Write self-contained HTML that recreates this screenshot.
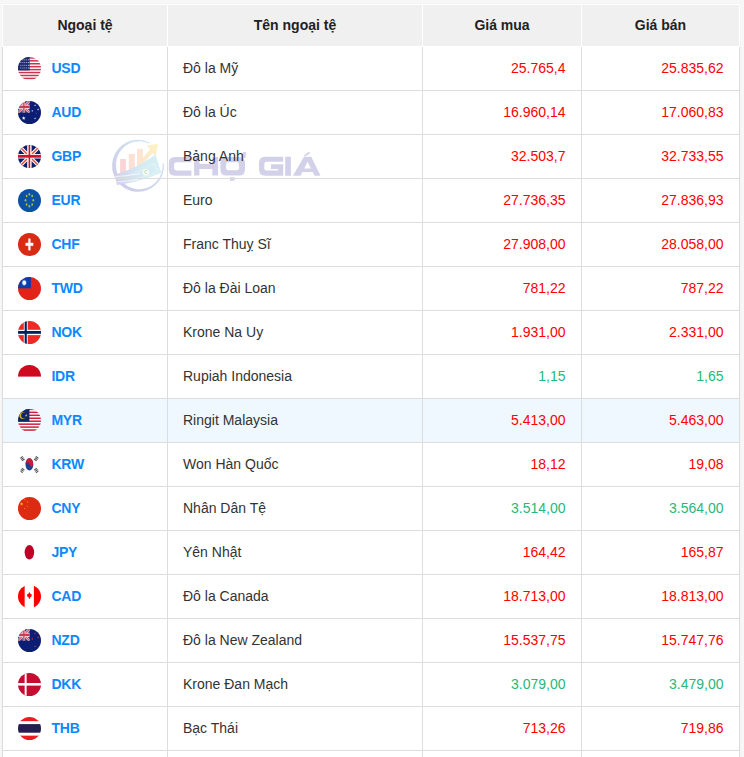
<!DOCTYPE html><html><head><meta charset="utf-8"><style>html,body{margin:0;padding:0}
body{width:744px;height:757px;overflow:hidden;background:#f7f7f7;font-family:"Liberation Sans",sans-serif;position:relative}
.wrap{position:absolute;left:2px;top:4px;background:#fff;box-shadow:0 0 2px rgba(0,0,0,0.04)}
table{border-collapse:collapse;table-layout:fixed;width:738px}
th{background:#f0f0f0;border:1px solid #fff;height:40px;padding:0 0 1px 0;font-weight:bold;font-size:14px;color:#222;text-align:center}
td{border:1px solid #ddd;height:42px;padding:0 0 1px 0;font-size:14px;color:#333}
tr.hl td{background:#f0f8ff}
.c1{padding-left:15px !important;white-space:nowrap}
.c1>svg{display:inline-block;vertical-align:middle;width:23px;height:23px}
.code{color:#0d88ff;font-weight:bold;margin-left:10.4px;letter-spacing:-0.2px;vertical-align:middle}
.c2{padding-left:15px !important}
.num{text-align:right;padding-right:15.5px !important}
.red{color:#ff0000}
.grn{color:#28b77a}
.wm{position:absolute;left:-2px;top:-4px;z-index:0}
table{position:relative;z-index:1}
</style></head><body>
<div class="wrap"><svg class="wm" width="744" height="757" viewBox="0 0 744 757">
<defs>
<linearGradient id="gRing" x1="0" y1="1" x2="1" y2="0"><stop offset="0" stop-color="#cdc9e7"/><stop offset="0.5" stop-color="#cfd9ee"/><stop offset="1" stop-color="#ccedf3"/></linearGradient><linearGradient id="gArrow" x1="0" y1="1" x2="1" y2="0"><stop offset="0" stop-color="#fce2d0"/><stop offset="1" stop-color="#fdf2c2"/></linearGradient>
<linearGradient id="gBar" x1="0" y1="0" x2="1" y2="0"><stop offset="0" stop-color="#f9d3d8"/><stop offset="1" stop-color="#fbe5cc"/></linearGradient>
<linearGradient id="gBill" x1="0" y1="0" x2="1" y2="0"><stop offset="0" stop-color="#d1cfea"/><stop offset="0.5" stop-color="#d5e9f3"/><stop offset="1" stop-color="#d8f0f5"/></linearGradient>
</defs>
<!-- ring -->
<path fill-rule="evenodd" d="M149.4,142.4 A26,26 0 1 0 163.9,163.5 L162.6,163.2 A23.4,24 0 1 1 149.55,143.7 Z" fill="url(#gRing)"/>
<!-- bars -->
<rect x="120.1" y="159" width="5.8" height="14" fill="#f9d5d8"/>
<rect x="128.8" y="153.9" width="6" height="16" fill="#fbe0d6"/>
<rect x="137" y="148.9" width="5.9" height="18" fill="#fce5d2"/>
<!-- arrow -->
<path d="M142.9,157.8 L149.9,149.3 L146.9,145.3 L158,144.1 L155.8,155.8 L152.5,153.3 L141,165.5 L136,167 Z" fill="url(#gArrow)"/>
<!-- bill -->
<path d="M114.5,174.5 Q134,170 155.5,154.5 L161.3,172.7 Q140,182 117,185 Z" fill="url(#gBill)"/>
<path d="M126,176 Q140,171.5 153.7,163.3 L158.6,171.8 Q142,178.5 128,181" fill="none" stroke="#fff" stroke-width="0.7" stroke-dasharray="1.1 1.3" opacity="0.9"/>
<circle cx="145.9" cy="172.3" r="3.4" fill="#f4faf6"/>
<path d="M147.3,170.6 Q145,169.6 144.5,171.6 Q144.9,173.4 147,174" stroke="#c5e2b8" stroke-width="1" fill="none"/>
<!-- swoosh white lines -->
<path d="M115.3,176.6 Q127,176 140,173.6" stroke="#fff" stroke-width="0.8" fill="none" opacity="0.85"/>
<path d="M117.5,181.8 Q130,181.5 142,178.2" stroke="#fff" stroke-width="0.8" fill="none" opacity="0.85"/>
<path d="M128,186 Q145,184.5 160,176" stroke="#fff" stroke-width="1.2" fill="none"/>
<!-- text CHỢ GIÁ -->
<g fill="#d3d1e9">
<path d="M191.4,157 H175 Q168.8,157 168.8,163.2 V169.6 Q168.8,175.8 175,175.8 H191.4 V170.5 H176.5 Q174.1,170.5 174.1,168.1 V164.7 Q174.1,162.3 176.5,162.3 H191.4 Z"/>
<path d="M194.1,157 H199.4 V164.1 H212.3 V157 H218 V175.6 H212.3 V168.9 H199.4 V175.6 H194.1 Z"/>
<path fill-rule="evenodd" d="M226.6,157 H238.8 Q245,157 245,163.2 V169.4 Q245,175.6 238.8,175.6 H226.6 Q220.4,175.6 220.4,169.4 V163.2 Q220.4,157 226.6,157 Z M228.1,162.3 Q226.1,162.3 226.1,164.3 V168.3 Q226.1,170.3 228.1,170.3 H237 Q239,170.3 239,168.3 V164.3 Q239,162.3 237,162.3 Z"/>
<path d="M241.5,157.5 L243.5,152 H246 L245.5,158 Z"/>
<rect x="230" y="177.2" width="4.7" height="3.5"/>
<path d="M283.2,156.7 H265.2 Q259,156.7 259,162.9 V169.6 Q259,175.8 265.2,175.8 H283.2 V164.3 H271 V168.9 H278 V170.5 H266.5 Q264.3,170.5 264.3,168.3 V164.2 Q264.3,161.8 266.5,161.8 H283.2 Z"/>
<rect x="285.2" y="156.7" width="5.7" height="19.1"/>
<path fill-rule="evenodd" d="M304,156.7 H311.3 L320.5,175.8 H314.6 L312.8,172 H302.4 L300.6,175.8 H292.9 Z M307.6,161.8 L304.3,168.4 H311 Z"/>
<path d="M303.8,155.4 L309,151.8 L310.2,153.2 L304.9,156.4 Z"/>
</g>
</svg>
<table><colgroup><col style="width:165px"><col style="width:255px"><col style="width:159px"><col style="width:158px"></colgroup>
<tr class="hd"><th>Ngoại tệ</th><th>Tên ngoại tệ</th><th>Giá mua</th><th>Giá bán</th></tr>
<tr><td class="c1"><svg viewBox="0 0 23 23"><defs><clipPath id="kUSD"><circle cx="11.5" cy="11.5" r="11.5"/></clipPath></defs><g clip-path="url(#kUSD)"><rect width="23" height="23" fill="#fff"/><rect x="0" y="0.15" width="23" height="1.50" fill="#c9344f"/><rect x="0" y="3.08" width="23" height="1.50" fill="#c9344f"/><rect x="0" y="6.01" width="23" height="1.50" fill="#c9344f"/><rect x="0" y="8.94" width="23" height="1.50" fill="#c9344f"/><rect x="0" y="11.87" width="23" height="1.50" fill="#c9344f"/><rect x="0" y="14.80" width="23" height="1.50" fill="#c9344f"/><rect x="0" y="17.73" width="23" height="1.50" fill="#c9344f"/><rect x="0" y="20.66" width="23" height="1.50" fill="#c9344f"/><rect x="0" y="23.59" width="23" height="1.50" fill="#c9344f"/><rect x="0" y="0" width="11.6" height="13.4" fill="#1b2a6b"/><rect x="2.3499999999999996" y="2.4499999999999997" width="0.9" height="0.9" fill="#d8dcf0"/><rect x="4.45" y="2.4499999999999997" width="0.9" height="0.9" fill="#d8dcf0"/><rect x="6.35" y="2.4499999999999997" width="0.9" height="0.9" fill="#d8dcf0"/><rect x="8.25" y="2.4499999999999997" width="0.9" height="0.9" fill="#d8dcf0"/><rect x="10.05" y="2.4499999999999997" width="0.9" height="0.9" fill="#d8dcf0"/><rect x="2.3499999999999996" y="5.1499999999999995" width="0.9" height="0.9" fill="#d8dcf0"/><rect x="4.45" y="5.1499999999999995" width="0.9" height="0.9" fill="#d8dcf0"/><rect x="6.35" y="5.1499999999999995" width="0.9" height="0.9" fill="#d8dcf0"/><rect x="8.25" y="5.1499999999999995" width="0.9" height="0.9" fill="#d8dcf0"/><rect x="10.05" y="5.1499999999999995" width="0.9" height="0.9" fill="#d8dcf0"/><rect x="2.3499999999999996" y="7.8500000000000005" width="0.9" height="0.9" fill="#d8dcf0"/><rect x="4.45" y="7.8500000000000005" width="0.9" height="0.9" fill="#d8dcf0"/><rect x="6.35" y="7.8500000000000005" width="0.9" height="0.9" fill="#d8dcf0"/><rect x="8.25" y="7.8500000000000005" width="0.9" height="0.9" fill="#d8dcf0"/><rect x="10.05" y="7.8500000000000005" width="0.9" height="0.9" fill="#d8dcf0"/><rect x="2.3499999999999996" y="10.55" width="0.9" height="0.9" fill="#d8dcf0"/><rect x="4.45" y="10.55" width="0.9" height="0.9" fill="#d8dcf0"/><rect x="6.35" y="10.55" width="0.9" height="0.9" fill="#d8dcf0"/><rect x="8.25" y="10.55" width="0.9" height="0.9" fill="#d8dcf0"/><rect x="10.05" y="10.55" width="0.9" height="0.9" fill="#d8dcf0"/></g></svg><span class="code">USD</span></td><td class="c2">Đô la Mỹ</td><td class="num red">25.765,4</td><td class="num red">25.835,62</td></tr>
<tr><td class="c1"><svg viewBox="0 0 23 23"><defs><clipPath id="kAUD"><circle cx="11.5" cy="11.5" r="11.5"/></clipPath></defs><g clip-path="url(#kAUD)"><rect width="23" height="23" fill="#0c1e74"/><g opacity="0.9"><svg x="0" y="0" width="11.7" height="11.7" viewBox="0 0 60 30" preserveAspectRatio="none"><rect width="60" height="30" fill="#012169"/><path d="M0,0 L60,30 M60,0 L0,30" stroke="#fff" stroke-width="8"/><path d="M0,0 L60,30 M60,0 L0,30" stroke="#e04860" stroke-width="4"/><path d="M30,0 V30 M0,15 H60" stroke="#fff" stroke-width="11"/><path d="M30,0 V30 M0,15 H60" stroke="#C8102E" stroke-width="6"/></svg></g><rect x="0" y="0" width="11.7" height="11.7" fill="#f4a0aa" opacity="0.3"/><polygon points="5.70,15.20 6.17,16.55 7.60,16.58 6.46,17.45 6.88,18.82 5.70,18.00 4.52,18.82 4.94,17.45 3.80,16.58 5.23,16.55" fill="#fff"/><polygon points="17.10,3.00 17.41,3.88 18.34,3.90 17.59,4.46 17.86,5.35 17.10,4.82 16.34,5.35 16.61,4.46 15.86,3.90 16.79,3.88" fill="#b8c0e8"/><polygon points="20.10,7.10 20.41,7.98 21.34,8.00 20.59,8.56 20.86,9.45 20.10,8.92 19.34,9.45 19.61,8.56 18.86,8.00 19.79,7.98" fill="#b8c0e8"/><polygon points="14.30,8.70 14.58,9.51 15.44,9.53 14.76,10.05 15.01,10.87 14.30,10.38 13.59,10.87 13.84,10.05 13.16,9.53 14.02,9.51" fill="#b8c0e8"/><polygon points="17.10,16.00 17.41,16.88 18.34,16.90 17.59,17.46 17.86,18.35 17.10,17.82 16.34,18.35 16.61,17.46 15.86,16.90 16.79,16.88" fill="#b8c0e8"/><polygon points="18.40,11.50 18.54,11.91 18.97,11.91 18.63,12.17 18.75,12.59 18.40,12.34 18.05,12.59 18.17,12.17 17.83,11.91 18.26,11.91" fill="#b8c0e8"/></g></svg><span class="code">AUD</span></td><td class="c2">Đô la Úc</td><td class="num red">16.960,14</td><td class="num red">17.060,83</td></tr>
<tr><td class="c1"><svg viewBox="0 0 23 23"><defs><clipPath id="kGBP"><circle cx="11.5" cy="11.5" r="11.5"/></clipPath></defs><g clip-path="url(#kGBP)"><rect width="23" height="23" fill="#0a1f6e"/><path d="M0,0 L23,23 M23,0 L0,23" stroke="#fff" stroke-width="3.6"/><path d="M0,0 L23,23 M23,0 L0,23" stroke="#e0503f" stroke-width="1.5"/><path d="M11.4,0 V23 M0,11.3 H23" stroke="#fff" stroke-width="4.4"/><rect x="10.6" y="0" width="1.6" height="23" fill="#d0112b"/><rect x="0" y="9.9" width="23" height="2.8" fill="#d0112b"/></g></svg><span class="code">GBP</span></td><td class="c2">Bảng Anh</td><td class="num red">32.503,7</td><td class="num red">32.733,55</td></tr>
<tr><td class="c1"><svg viewBox="0 0 23 23"><defs><clipPath id="kEUR"><circle cx="11.5" cy="11.5" r="11.5"/></clipPath></defs><g clip-path="url(#kEUR)"><rect width="23" height="23" fill="#0b52a6"/><ellipse cx="11.40" cy="5.30" rx="0.85" ry="1.3" fill="#a9c23c"/><ellipse cx="14.16" cy="7.06" rx="0.85" ry="1.3" fill="#a9c23c"/><ellipse cx="15.30" cy="11.30" rx="0.85" ry="1.3" fill="#a9c23c"/><ellipse cx="14.16" cy="15.54" rx="0.85" ry="1.3" fill="#a9c23c"/><ellipse cx="11.40" cy="17.30" rx="0.85" ry="1.3" fill="#a9c23c"/><ellipse cx="8.64" cy="15.54" rx="0.85" ry="1.3" fill="#a9c23c"/><ellipse cx="7.50" cy="11.30" rx="0.85" ry="1.3" fill="#a9c23c"/><ellipse cx="8.64" cy="7.06" rx="0.85" ry="1.3" fill="#a9c23c"/></g></svg><span class="code">EUR</span></td><td class="c2">Euro</td><td class="num red">27.736,35</td><td class="num red">27.836,93</td></tr>
<tr><td class="c1"><svg viewBox="0 0 23 23"><defs><clipPath id="kCHF"><circle cx="11.5" cy="11.5" r="11.5"/></clipPath></defs><g clip-path="url(#kCHF)"><rect width="23" height="23" fill="#d92b14"/><rect x="10.3" y="5.5" width="2.2" height="11.9" fill="#fff"/><rect x="7.5" y="9.8" width="7.8" height="3" fill="#fff"/></g></svg><span class="code">CHF</span></td><td class="c2">Franc Thuỵ Sĩ</td><td class="num red">27.908,00</td><td class="num red">28.058,00</td></tr>
<tr><td class="c1"><svg viewBox="0 0 23 23"><defs><clipPath id="kTWD"><circle cx="11.5" cy="11.5" r="11.5"/></clipPath></defs><g clip-path="url(#kTWD)"><rect width="23" height="23" fill="#e2231a"/><rect x="0" y="0" width="12.9" height="11.3" fill="#0b3ea8"/><defs><radialGradient id="tsun"><stop offset="0" stop-color="#fff"/><stop offset="0.45" stop-color="#eef2f8"/><stop offset="1" stop-color="#0b3ea8" stop-opacity="0"/></radialGradient></defs><ellipse cx="6.2" cy="5.75" rx="3.2" ry="3.9" fill="url(#tsun)"/></g></svg><span class="code">TWD</span></td><td class="c2">Đô la Đài Loan</td><td class="num red">781,22</td><td class="num red">787,22</td></tr>
<tr><td class="c1"><svg viewBox="0 0 23 23"><defs><clipPath id="kNOK"><circle cx="11.5" cy="11.5" r="11.5"/></clipPath></defs><g clip-path="url(#kNOK)"><rect width="23" height="23" fill="#ef2a24"/><rect x="5.8" y="0" width="3.9" height="23" fill="#fff"/><rect x="0" y="8.8" width="23" height="5.3" fill="#fff"/><rect x="6.65" y="0" width="2.15" height="23" fill="#00205b"/><rect x="0" y="10" width="23" height="2.8" fill="#00205b"/></g></svg><span class="code">NOK</span></td><td class="c2">Krone Na Uy</td><td class="num red">1.931,00</td><td class="num red">2.331,00</td></tr>
<tr><td class="c1"><svg viewBox="0 0 23 23"><defs><clipPath id="kIDR"><circle cx="11.5" cy="11.5" r="11.5"/></clipPath></defs><g clip-path="url(#kIDR)"><rect width="23" height="23" fill="#fff"/><rect width="23" height="11.6" fill="#ce0a1e"/></g></svg><span class="code">IDR</span></td><td class="c2">Rupiah Indonesia</td><td class="num grn">1,15</td><td class="num grn">1,65</td></tr>
<tr class="hl"><td class="c1"><svg viewBox="0 0 23 23"><defs><clipPath id="kMYR"><circle cx="11.5" cy="11.5" r="11.5"/></clipPath></defs><g clip-path="url(#kMYR)"><rect width="23" height="23" fill="#fff"/><rect x="0" y="-0.35" width="23" height="1.50" fill="#cc1f3d"/><rect x="0" y="2.60" width="23" height="1.50" fill="#cc1f3d"/><rect x="0" y="5.55" width="23" height="1.50" fill="#cc1f3d"/><rect x="0" y="8.50" width="23" height="1.50" fill="#cc1f3d"/><rect x="0" y="11.45" width="23" height="1.50" fill="#cc1f3d"/><rect x="0" y="14.40" width="23" height="1.50" fill="#cc1f3d"/><rect x="0" y="17.35" width="23" height="1.50" fill="#cc1f3d"/><rect x="0" y="20.30" width="23" height="1.50" fill="#cc1f3d"/><rect x="0" y="23.25" width="23" height="1.50" fill="#cc1f3d"/><rect x="0" y="0" width="11.4" height="12.6" fill="#0d2868"/><circle cx="4.8" cy="6.6" r="3.4" fill="#e3b21a"/><circle cx="6.1" cy="6.4" r="3.0" fill="#0d2868"/><polygon points="8.20,4.80 8.58,5.88 9.72,5.91 8.81,6.60 9.14,7.69 8.20,7.04 7.26,7.69 7.59,6.60 6.68,5.91 7.82,5.88" fill="#e8b416"/></g></svg><span class="code">MYR</span></td><td class="c2">Ringit Malaysia</td><td class="num red">5.413,00</td><td class="num red">5.463,00</td></tr>
<tr><td class="c1"><svg viewBox="0 0 23 23"><defs><clipPath id="kKRW"><circle cx="11.5" cy="11.5" r="11.5"/></clipPath></defs><g clip-path="url(#kKRW)"><rect width="23" height="23" fill="#fff"/><g transform="translate(11.4 11.3) scale(3.9 6.15) rotate(-20)"><circle r="1" fill="#1f3f8f"/><path d="M-1,0 A1,1 0 0 1 1,0 A0.5,0.5 0 0 1 0,0 A0.5,0.5 0 0 0 -1,0 Z" fill="#cd1c33"/></g><g transform="translate(4.3 5.5) rotate(-35)"><rect x="-1.6" y="-2.0500000000000003" width="3.2" height="1.1" fill="#333" opacity="0.85"/><rect x="-1.6" y="-0.45" width="3.2" height="1.1" fill="#333" opacity="0.85"/><rect x="-1.6" y="1.1500000000000001" width="3.2" height="1.1" fill="#333" opacity="0.85"/></g><g transform="translate(18.3 5.5) rotate(35)"><rect x="-1.6" y="-2.0500000000000003" width="3.2" height="1.1" fill="#333" opacity="0.85"/><rect x="-1.6" y="-0.45" width="3.2" height="1.1" fill="#333" opacity="0.85"/><rect x="-1.6" y="1.1500000000000001" width="3.2" height="1.1" fill="#333" opacity="0.85"/></g><g transform="translate(4.3 17.4) rotate(35)"><rect x="-1.6" y="-2.0500000000000003" width="3.2" height="1.1" fill="#333" opacity="0.85"/><rect x="-1.6" y="-0.45" width="3.2" height="1.1" fill="#333" opacity="0.85"/><rect x="-1.6" y="1.1500000000000001" width="3.2" height="1.1" fill="#333" opacity="0.85"/></g><g transform="translate(18.3 17.4) rotate(-35)"><rect x="-1.6" y="-2.0500000000000003" width="3.2" height="1.1" fill="#333" opacity="0.85"/><rect x="-1.6" y="-0.45" width="3.2" height="1.1" fill="#333" opacity="0.85"/><rect x="-1.6" y="1.1500000000000001" width="3.2" height="1.1" fill="#333" opacity="0.85"/></g></g></svg><span class="code">KRW</span></td><td class="c2">Won Hàn Quốc</td><td class="num red">18,12</td><td class="num red">19,08</td></tr>
<tr><td class="c1"><svg viewBox="0 0 23 23"><defs><clipPath id="kCNY"><circle cx="11.5" cy="11.5" r="11.5"/></clipPath></defs><g clip-path="url(#kCNY)"><rect width="23" height="23" fill="#dd2a12"/><polygon points="3.60,5.10 4.05,6.39 5.41,6.41 4.32,7.23 4.72,8.54 3.60,7.76 2.48,8.54 2.88,7.23 1.79,6.41 3.15,6.39" fill="#ffd000"/><polygon points="6.65,1.80 6.86,2.41 7.51,2.42 6.99,2.81 7.18,3.43 6.65,3.06 6.12,3.43 6.31,2.81 5.79,2.42 6.44,2.41" fill="#f5a000"/><polygon points="9.40,4.00 9.61,4.61 10.26,4.62 9.74,5.01 9.93,5.63 9.40,5.26 8.87,5.63 9.06,5.01 8.54,4.62 9.19,4.61" fill="#f5a000"/><polygon points="9.40,8.30 9.61,8.91 10.26,8.92 9.74,9.31 9.93,9.93 9.40,9.56 8.87,9.93 9.06,9.31 8.54,8.92 9.19,8.91" fill="#f5a000"/><polygon points="6.65,10.70 6.86,11.31 7.51,11.32 6.99,11.71 7.18,12.33 6.65,11.96 6.12,12.33 6.31,11.71 5.79,11.32 6.44,11.31" fill="#f5a000"/></g></svg><span class="code">CNY</span></td><td class="c2">Nhân Dân Tệ</td><td class="num grn">3.514,00</td><td class="num grn">3.564,00</td></tr>
<tr><td class="c1"><svg viewBox="0 0 23 23"><defs><clipPath id="kJPY"><circle cx="11.5" cy="11.5" r="11.5"/></clipPath></defs><g clip-path="url(#kJPY)"><rect width="23" height="23" fill="#fff"/><ellipse cx="11.4" cy="11.3" rx="4.75" ry="7.3" fill="#bc0028"/></g></svg><span class="code">JPY</span></td><td class="c2">Yên Nhật</td><td class="num red">164,42</td><td class="num red">165,87</td></tr>
<tr><td class="c1"><svg viewBox="0 0 23 23"><defs><clipPath id="kCAD"><circle cx="11.5" cy="11.5" r="11.5"/></clipPath></defs><g clip-path="url(#kCAD)"><rect width="23" height="23" fill="#fff"/><rect x="0" y="0" width="6.65" height="23" fill="#ff0000"/><rect x="15.9" y="0" width="7.1" height="23" fill="#ff0000"/><path d="M11.4,6.9 L12.6,8.9 L13.7,9.2 L13.6,11.2 L11.9,12.8 L11.7,14 L11.1,14 L10.9,12.8 L9.2,11.2 L9.1,9.2 L10.2,8.9 Z" fill="#ff0000"/></g></svg><span class="code">CAD</span></td><td class="c2">Đô la Canada</td><td class="num red">18.713,00</td><td class="num red">18.813,00</td></tr>
<tr><td class="c1"><svg viewBox="0 0 23 23"><defs><clipPath id="kNZD"><circle cx="11.5" cy="11.5" r="11.5"/></clipPath></defs><g clip-path="url(#kNZD)"><rect width="23" height="23" fill="#0c1e74"/><g opacity="0.9"><svg x="0" y="0" width="11.7" height="11.7" viewBox="0 0 60 30" preserveAspectRatio="none"><rect width="60" height="30" fill="#012169"/><path d="M0,0 L60,30 M60,0 L0,30" stroke="#fff" stroke-width="8"/><path d="M0,0 L60,30 M60,0 L0,30" stroke="#e04860" stroke-width="4"/><path d="M30,0 V30 M0,15 H60" stroke="#fff" stroke-width="11"/><path d="M30,0 V30 M0,15 H60" stroke="#C8102E" stroke-width="6"/></svg></g><rect x="0" y="0" width="11.7" height="11.7" fill="#f4a0aa" opacity="0.3"/><polygon points="17.10,3.00 17.41,3.88 18.34,3.90 17.59,4.46 17.86,5.35 17.10,4.82 16.34,5.35 16.61,4.46 15.86,3.90 16.79,3.88" fill="#b8304f"/><polygon points="20.10,7.10 20.41,7.98 21.34,8.00 20.59,8.56 20.86,9.45 20.10,8.92 19.34,9.45 19.61,8.56 18.86,8.00 19.79,7.98" fill="#b8304f"/><polygon points="14.30,8.70 14.58,9.51 15.44,9.53 14.76,10.05 15.01,10.87 14.30,10.38 13.59,10.87 13.84,10.05 13.16,9.53 14.02,9.51" fill="#b8304f"/><polygon points="17.10,16.00 17.41,16.88 18.34,16.90 17.59,17.46 17.86,18.35 17.10,17.82 16.34,18.35 16.61,17.46 15.86,16.90 16.79,16.88" fill="#b8304f"/></g></svg><span class="code">NZD</span></td><td class="c2">Đô la New Zealand</td><td class="num red">15.537,75</td><td class="num red">15.747,76</td></tr>
<tr><td class="c1"><svg viewBox="0 0 23 23"><defs><clipPath id="kDKK"><circle cx="11.5" cy="11.5" r="11.5"/></clipPath></defs><g clip-path="url(#kDKK)"><rect width="23" height="23" fill="#c60d2f"/><rect x="6.65" y="0" width="1.95" height="23" fill="#fff"/><rect x="0" y="10" width="23" height="2.6" fill="#fff"/></g></svg><span class="code">DKK</span></td><td class="c2">Krone Đan Mạch</td><td class="num grn">3.079,00</td><td class="num grn">3.479,00</td></tr>
<tr><td class="c1"><svg viewBox="0 0 23 23"><defs><clipPath id="kTHB"><circle cx="11.5" cy="11.5" r="11.5"/></clipPath></defs><g clip-path="url(#kTHB)"><rect width="23" height="4.4" fill="#ed1b24"/><rect y="18.4" width="23" height="4.6" fill="#ed1b24"/><rect x="0" y="4.4" width="23" height="2.7" fill="#fff"/><rect x="0" y="15.7" width="23" height="2.7" fill="#fff"/><rect x="0" y="7.1" width="23" height="8.6" fill="#241d4f"/></g></svg><span class="code">THB</span></td><td class="c2">Bạc Thái</td><td class="num red">713,26</td><td class="num red">719,86</td></tr>
<tr><td class="c1"><span class="code"></span></td><td class="c2"></td><td class="num grn"></td><td class="num grn"></td></tr>
</table></div>
</body></html>
